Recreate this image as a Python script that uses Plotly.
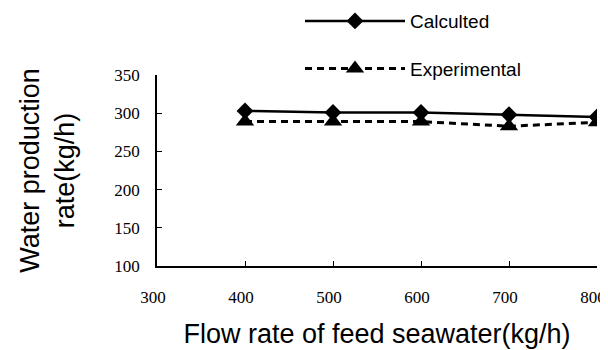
import plotly.graph_objects as go

flow_rate = [400, 500, 600, 700, 800]
calculated = [303, 301, 301, 298, 295]
experimental = [289, 289, 289, 283, 288]

x_ticks = [300, 400, 500, 600, 700, 800]
y_ticks = [100, 150, 200, 250, 300, 350]

fig = go.Figure()
fig.add_trace(go.Scatter(
    x=flow_rate, y=calculated, name="Calculted", mode="lines+markers",
    line=dict(color="black", width=2.5),
    marker=dict(symbol="diamond", size=13, color="black"),
    legendgroup="a",
))
fig.add_trace(go.Scatter(
    x=flow_rate, y=experimental, name="Experimental", mode="lines+markers",
    line=dict(color="black", width=3, dash="7px,5px"),
    marker=dict(symbol="triangle-up", size=16, color="black"),
    legendgroup="b",
))

serif = "Liberation Serif, Times New Roman, serif"
sans = "Liberation Sans, Arial, sans-serif"

fig.update_layout(
    width=608, height=350,
    margin=dict(l=149, r=19, t=67, b=92, autoexpand=False),
    paper_bgcolor="white", plot_bgcolor="white",
    font=dict(family=sans, color="black"),
    showlegend=True,
    legend=dict(
        x=0.325, y=1.382, xanchor="left", yanchor="top",
        font=dict(size=19, family=sans),
        traceorder="grouped", tracegroupgap=20,
        itemwidth=100, bgcolor="rgba(0,0,0,0)",
    ),
    xaxis=dict(
        range=[300, 800], tickvals=x_ticks, ticktext=[str(v) for v in x_ticks],
        showgrid=False, zeroline=False, automargin=False,
        showline=True, linecolor="black", linewidth=1.5,
        ticks="inside", ticklen=5, tickcolor="black", tickwidth=1,
        tickfont=dict(family=serif, size=17),
        ticklabelstandoff=15, ticklabelshift=-4,
        title=dict(text="Flow rate of feed seawater(kg/h)",
                   font=dict(size=27, family=sans), standoff=18),
    ),
    yaxis=dict(
        range=[100, 350], tickvals=y_ticks, ticktext=[str(v) for v in y_ticks],
        showgrid=False, zeroline=False, automargin=False,
        showline=True, linecolor="black", linewidth=1.5,
        ticks="inside", ticklen=5, tickcolor="black", tickwidth=1,
        tickfont=dict(family=serif, size=17),
        ticklabelstandoff=12,
        title=dict(text="Water production<br>rate(kg/h)",
                   font=dict(size=27, family=sans), standoff=32),
    ),
)

fig.write_html("out.html")
